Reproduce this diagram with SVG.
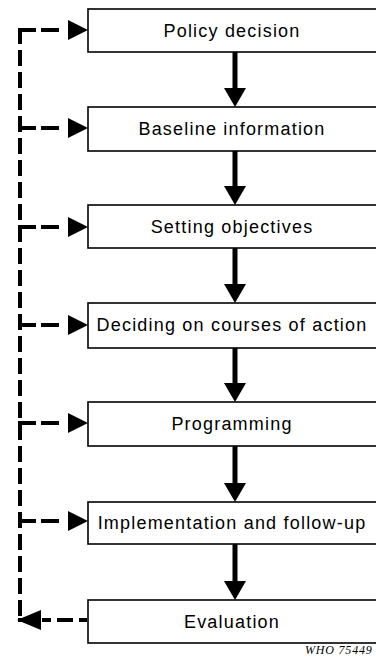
<svg xmlns="http://www.w3.org/2000/svg" width="376" height="657" viewBox="0 0 376 657">
  <style>
    .box { fill: #fff; stroke: #000; stroke-width: 1.6; }
    .lbl { font-family: "Liberation Sans", Arial, sans-serif; font-size: 18px; letter-spacing: 1.2px; text-anchor: middle; fill: #000; }
    .flow { stroke: #000; stroke-width: 5; fill: none; }
    .fb { stroke: #000; stroke-width: 4; fill: none; stroke-dasharray: 18 5; }
    .ref { font-family: "Liberation Serif", "Times New Roman", serif; font-style: italic; font-size: 12px; letter-spacing: 0.8px; fill: #000; }
  </style>
  <defs>
    <!-- solid downward arrowhead; tip sits 19px past the line end -->
    <marker id="down" markerUnits="userSpaceOnUse" markerWidth="30" markerHeight="30" refX="0" refY="11" orient="auto" overflow="visible">
      <path d="M 0 0 L 19 11 L 0 22 Z" fill="#000"/>
    </marker>
    <!-- feedback arrowhead, detached from the last dash by a small gap -->
    <marker id="fbhead" markerUnits="userSpaceOnUse" markerWidth="30" markerHeight="30" refX="0" refY="10" orient="auto" overflow="visible">
      <path d="M 6 0 L 26 10 L 6 20 Z" fill="#000"/>
    </marker>
  </defs>

  <g id="n1"><rect class="box" x="88" y="9" width="300" height="43"/><text class="lbl" x="232" y="37">Policy decision</text></g>
  <g id="n2"><rect class="box" x="88" y="107" width="300" height="44"/><text class="lbl" x="232" y="135">Baseline information</text></g>
  <g id="n3"><rect class="box" x="88" y="205" width="300" height="43"/><text class="lbl" x="232" y="233">Setting objectives</text></g>
  <g id="n4"><rect class="box" x="88" y="303" width="300" height="45"/><text class="lbl" x="232" y="331">Deciding on courses of action</text></g>
  <g id="n5"><rect class="box" x="88" y="402" width="300" height="44"/><text class="lbl" x="232" y="430">Programming</text></g>
  <g id="n6"><rect class="box" x="88" y="502" width="300" height="42"/><text class="lbl" x="232" y="529">Implementation and follow-up</text></g>
  <g id="n7"><rect class="box" x="88" y="600" width="300" height="43"/><text class="lbl" x="232" y="628">Evaluation</text></g>

  <g id="connectors">
    <!-- main sequence -->
    <line class="flow" x1="235" y1="52" x2="235" y2="88" marker-end="url(#down)"/>
    <line class="flow" x1="235" y1="151" x2="235" y2="186" marker-end="url(#down)"/>
    <line class="flow" x1="235" y1="248" x2="235" y2="284" marker-end="url(#down)"/>
    <line class="flow" x1="235" y1="348" x2="235" y2="383" marker-end="url(#down)"/>
    <line class="flow" x1="235" y1="446" x2="235" y2="483" marker-end="url(#down)"/>
    <line class="flow" x1="235" y1="544" x2="235" y2="581" marker-end="url(#down)"/>

    <!-- feedback trunk -->
    <line class="fb" x1="20" y1="28" x2="20" y2="622" style="stroke-dasharray: 16 6"/>

    <!-- feedback branches -->
    <line class="fb" x1="18" y1="30" x2="62" y2="30" marker-end="url(#fbhead)"/>
    <line class="fb" x1="18" y1="128" x2="62" y2="128" marker-end="url(#fbhead)"/>
    <line class="fb" x1="18" y1="227" x2="62" y2="227" marker-end="url(#fbhead)"/>
    <line class="fb" x1="18" y1="325" x2="62" y2="325" marker-end="url(#fbhead)"/>
    <line class="fb" x1="18" y1="423" x2="62" y2="423" marker-end="url(#fbhead)"/>
    <line class="fb" x1="18" y1="521" x2="62" y2="521" marker-end="url(#fbhead)"/>

    <!-- evaluation back to the trunk -->
    <line class="fb" x1="87" y1="620" x2="42" y2="620" style="stroke-dasharray: 8 6 16 6 20"/>
    <path d="M 41 610 L 17 620 L 41 630 Z" fill="#000"/>
    <line stroke="#000" stroke-width="4" x1="18" y1="620" x2="41" y2="620"/>
  </g>

  <text class="ref" x="305" y="654">WHO 75449</text>
</svg>
